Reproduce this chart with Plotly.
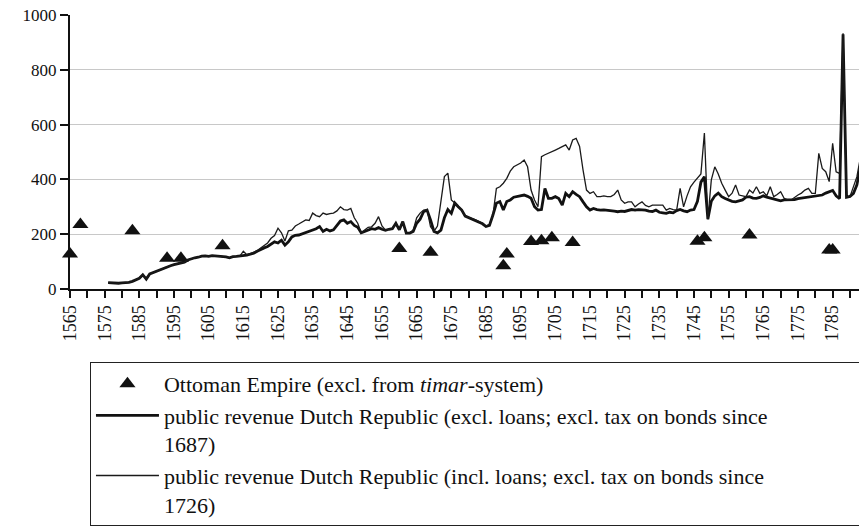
import plotly.graph_objects as go

# ---- data ----
years = list(range(1576, 1794))

revenue_excl_loans = [
    23, 22, 22, 21, 22, 22, 24, 28, 34, 39,            # 1576-1585
    52, 36, 55, 60, 66, 72, 77, 81, 85, 89,            # 1586-1595
    92, 95, 98, 106, 111, 114, 116, 120, 121, 119,     # 1596-1605
    122, 121, 119, 120, 117, 114, 118, 119, 120, 122,  # 1606-1615
    124, 127, 131, 138, 145, 150, 155, 164, 172, 168,  # 1616-1625
    178, 160, 172, 190, 196, 197, 202, 206, 212, 215,  # 1626-1635
    220, 228, 210, 218, 212, 216, 232, 248, 252, 240,  # 1636-1645
    246, 232, 225, 205, 210, 215, 220, 218, 224, 218,  # 1646-1655
    214, 218, 220, 240, 216, 246, 204, 204, 210, 240,  # 1656-1665
    255, 282, 288, 252, 210, 205, 215, 260, 290, 276,  # 1666-1675
    314, 300, 288, 266, 260, 256, 250, 242, 238, 228,  # 1676-1685
    232, 270, 313, 319, 288, 319, 325, 335, 338, 342,  # 1686-1695
    343, 338, 331, 300, 288, 290, 367, 331, 331, 337,  # 1696-1705
    330, 306, 349, 337, 355, 345, 337, 318, 300, 288,  # 1706-1715
    294, 290, 288, 289, 288, 286, 284, 282, 284, 283,  # 1716-1725
    286, 290, 288, 290, 289, 288, 284, 283, 288, 280,  # 1726-1735
    278, 276, 280, 278, 286, 290, 285, 282, 288, 290,  # 1736-1745
    320, 390, 410, 255, 320, 340, 350, 337, 330, 325,  # 1746-1755
    320, 318, 322, 325, 335, 337, 332, 331, 334, 340,  # 1756-1765
    335, 332, 330, 326, 322, 325, 325, 324, 326, 330,  # 1766-1775
    332, 334, 335, 337, 338, 340, 343, 350, 355, 360,  # 1776-1785
    340, 330, 930, 335, 338, 349, 380, 450,            # 1786-1793
]

revenue_incl_loans = [
    23, 22, 22, 21, 22, 22, 24, 28, 34, 39,            # 1576-1585
    52, 36, 55, 60, 66, 72, 77, 81, 85, 89,            # 1586-1595
    92, 95, 98, 106, 111, 114, 116, 120, 121, 119,     # 1596-1605
    122, 121, 119, 120, 117, 114, 118, 119, 120, 138,  # 1606-1615
    125, 128, 133, 140, 150, 160, 168, 185, 195, 222,  # 1616-1625
    205, 175, 212, 215, 230, 237, 245, 252, 250, 277,  # 1626-1635
    268, 264, 277, 272, 275, 277, 285, 300, 290, 288,  # 1636-1645
    294, 260, 240, 205, 215, 225, 227, 240, 264, 230,  # 1646-1655
    215, 218, 220, 240, 216, 246, 204, 204, 215, 260,  # 1656-1665
    277, 288, 290, 227, 210, 230, 325, 410, 423, 325,  # 1666-1675
    314, 300, 288, 266, 262, 258, 252, 246, 240, 230,  # 1676-1685
    235, 270, 367, 373, 386, 404, 430, 446, 453, 460,  # 1686-1695
    471, 446, 361, 325, 300, 483, 490, 495, 500, 507,  # 1696-1705
    513, 520, 526, 507, 544, 550, 520, 434, 361, 349,  # 1706-1715
    355, 337, 337, 340, 337, 337, 345, 361, 325, 313,  # 1716-1725
    318, 318, 300, 310, 318, 305, 300, 306, 306, 304,  # 1726-1735
    306, 288, 294, 290, 288, 367, 300, 340, 373, 390,  # 1736-1745
    404, 420, 569, 255, 398, 446, 420, 386, 361, 337,  # 1746-1755
    350, 380, 343, 340, 337, 361, 350, 373, 349, 355,  # 1756-1765
    340, 373, 337, 345, 355, 331, 325, 325, 335, 343,  # 1766-1775
    350, 361, 367, 349, 349, 495, 440, 428, 392, 532,  # 1776-1785
    428, 422, 933, 337, 337, 373, 410, 480,            # 1786-1793
]

ottoman_years = [1565, 1568, 1583, 1593, 1597, 1609, 1660, 1669, 1690, 1691,
                 1698, 1701, 1704, 1710, 1746, 1748, 1761, 1784, 1785]
ottoman_values = [128, 235, 213, 112, 112, 158, 148, 134, 85, 128,
                  173, 176, 187, 170, 174, 187, 197, 142, 142]

y_ticks = [0, 200, 400, 600, 800, 1000]

legend_names = [
    "Ottoman Empire (excl. from <i>timar</i>-system)",
    "public revenue Dutch Republic (excl. loans; excl. tax on bonds since<br>1687)",
    "public revenue Dutch Republic (incl. loans; excl. tax on bonds since<br>1726)",
]

# ---- figure ----
fig = go.Figure()

fig.add_trace(go.Scatter(
    x=ottoman_years, y=ottoman_values, mode="markers", name=legend_names[0],
    marker=dict(symbol="triangle-up", size=14, color="#111111"),
    cliponaxis=False,
))
fig.add_trace(go.Scatter(
    x=years, y=revenue_excl_loans, mode="lines", name=legend_names[1],
    line=dict(color="#111111", width=2.8),
))
fig.add_trace(go.Scatter(
    x=years, y=revenue_incl_loans, mode="lines", name=legend_names[2],
    line=dict(color="#1a1a1a", width=1.3),
))

serif = "Liberation Serif, DejaVu Serif, serif"

fig.update_layout(
    width=859, height=528,
    margin=dict(l=70, r=0, t=15, b=239, autoexpand=False),
    paper_bgcolor="white", plot_bgcolor="white",
    font=dict(family=serif, color="#111111"),
    showlegend=True,
    legend=dict(
        orientation="h",
        entrywidthmode="pixels", entrywidth=690,
        x=0.0253, y=-0.266, xanchor="left", yanchor="top",
        bordercolor="#222222", borderwidth=1,
        font=dict(family=serif, size=22, color="#111111"),
        tracegroupgap=0,
        itemwidth=63,
        valign="top",
    ),
    xaxis=dict(
        range=[1565, 1792.6],
        tick0=1565, dtick=10,
        tickangle=-90,
        ticks="outside", ticklen=7, tickwidth=1.5, tickcolor="#111111",
        minor=dict(dtick=5, ticks="outside", ticklen=7, tickwidth=1.5, tickcolor="#111111"),
        showline=True, linecolor="#111111", linewidth=2,
        showgrid=False, zeroline=False,
        automargin=False,
        tickfont=dict(family=serif, size=18, color="#111111"),
    ),
    yaxis=dict(
        range=[0, 1000],
        tickvals=y_ticks,
        ticks="outside", ticklen=8, tickwidth=1.5, tickcolor="#111111",
        showline=True, linecolor="#111111", linewidth=2,
        showgrid=True, gridcolor="#c8c8c8", gridwidth=1.3,
        zeroline=False,
        automargin=False,
        tickfont=dict(family=serif, size=17, color="#111111"),
    ),
)

fig.write_html("out.html", config={"displayModeBar": False},
               post_script="document.body.style.margin='0px';")
